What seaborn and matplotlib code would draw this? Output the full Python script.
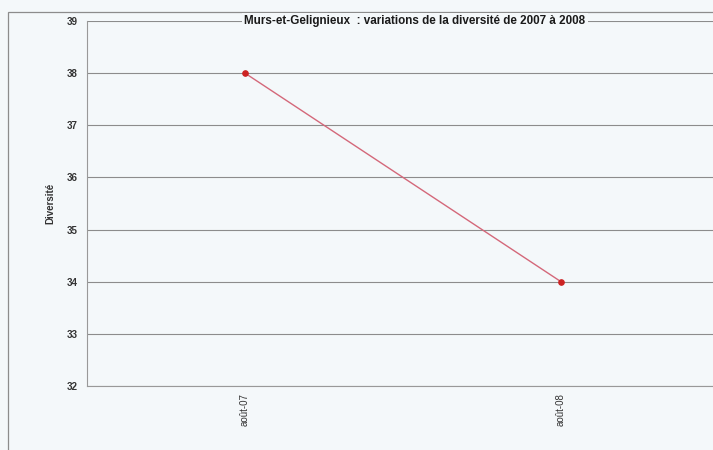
import matplotlib
matplotlib.use("Agg")
import matplotlib.pyplot as plt
import seaborn as sns
import pandas as pd
from matplotlib.patches import Rectangle

categories = ["août-07", "août-08"]
diversite = [38, 34]
y_ticks = [32, 33, 34, 35, 36, 37, 38, 39]

sns.set_style("white")
plt.rcParams['font.family'] = ['Liberation Sans', 'DejaVu Sans']

bg = "#f4f8fa"
fig = plt.figure(figsize=(7.13, 4.5), dpi=100, facecolor=bg)
W, H = 713, 450
ax = fig.add_axes([87 / W, 1 - 386 / H, (719 - 87) / W, (386 - 21) / H])
ax.set_facecolor(bg)

df = pd.DataFrame({"x": range(len(categories)), "Diversité": diversite})
sns.lineplot(data=df, x="x", y="Diversité", ax=ax, color="#d4687a", linewidth=1.0,
             marker="o", markersize=4, markerfacecolor="#cc2222", markeredgecolor="#cc2222")

ax.set_xlim(-0.5, len(categories) - 0.5)
ax.set_ylim(min(y_ticks), max(y_ticks))
ax.set_yticks(y_ticks)
ax.set_yticklabels([str(v) for v in y_ticks], fontsize=7, fontweight="bold", color="#333333")
ax.set_xticks(range(len(categories)))
ax.set_xticklabels(categories, rotation=90, fontsize=7, color="#333333")
ax.tick_params(axis="x", length=0, pad=5)
ax.set_xticks([0.5], minor=True)
ax.tick_params(axis="x", which="minor", length=3, direction="inout", color="#999999")
ax.tick_params(axis="y", length=4, color="#999999", width=0.8, pad=3)

ax.yaxis.grid(True, color="#8c8c8c", linewidth=0.8)
ax.set_axisbelow(True)
for s in ["top", "right"]:
    ax.spines[s].set_visible(False)
for s in ["left", "bottom"]:
    ax.spines[s].set_color("#999999")
    ax.spines[s].set_linewidth(0.8)

ax.set_xlabel("")
ax.set_ylabel("Diversité", fontsize=7, fontweight="bold", color="#333333", labelpad=8)

fig.text(415 / W, 1 - 21 / H, "Murs-et-Gelignieux  : variations de la diversité de 2007 à 2008",
         ha="center", va="center", fontsize=8.4, fontweight="bold", color="#1a1a1a",
         bbox=dict(facecolor=bg, edgecolor="none", pad=1.5))

fig.patches.append(Rectangle((8 / W, -0.1), 1.2, (1 - 12 / H) + 0.1, transform=fig.transFigure,
                             fill=False, edgecolor="#8c8c8c", linewidth=0.9))

fig.savefig("out.png", dpi=100, facecolor=bg)
